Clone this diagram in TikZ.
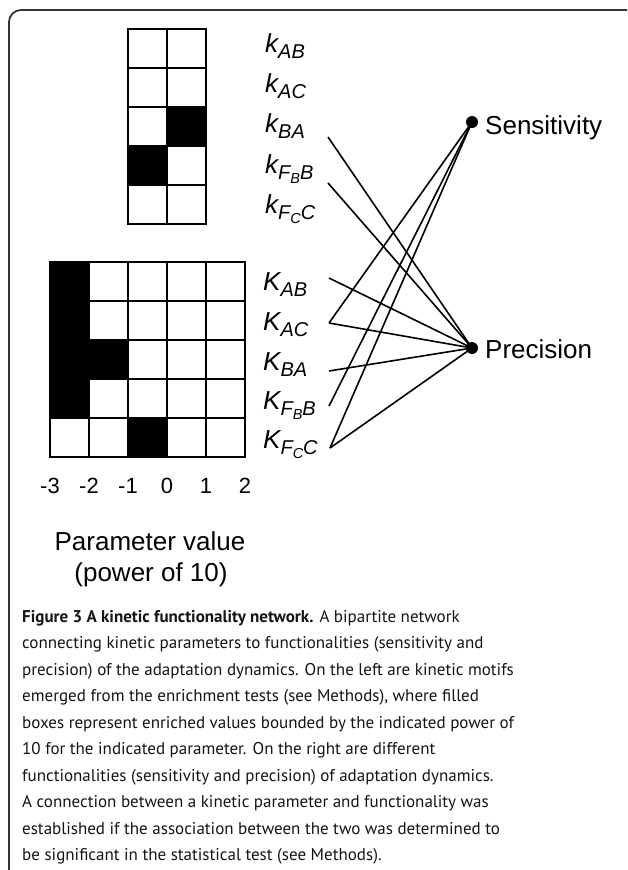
\documentclass[tikz,border=0pt]{standalone}
\usepackage{fontspec}
\setmainfont{Liberation Sans}
\newfontfamily\capfont{PT Sans}
\newcommand\labk[2]{{\fontsize{26}{26}\selectfont\itshape #1}\raisebox{-6pt}{\fontsize{20}{20}\selectfont\itshape #2}}
\newcommand\ssub[1]{\raisebox{-4pt}{\fontsize{14.5}{14.5}\selectfont #1}}
\tikzset{
  gridline/.style={line width=2pt, line cap=rect},
  cellfill/.style={fill=black},
  edge/.style={line width=1.6pt},
  dot/.style={circle, fill=black, inner sep=0pt, minimum size=12pt},
  lab/.style={anchor=base west, inner sep=0pt},
  big/.style={inner sep=0pt, font=\fontsize{26}{26}\selectfont},
  axisnum/.style={anchor=base, inner sep=0pt, font=\fontsize{22}{22}\selectfont},
  border/.style={line width=1.8pt, draw=black!80},
}
\begin{document}
\begin{tikzpicture}[x=1pt, y=-1pt]
\useasboundingbox (0,0) rectangle (627,870);
% border
\draw[border, rounded corners=12pt] (627,10) -- (9,10) -- (9,871);
% top grid
\fill[cellfill] (167,107) rectangle (206,146);
\fill[cellfill] (128,146) rectangle (167,185);
\foreach \i in {0,1,2} \draw[gridline] (128+39*\i,29) -- (128+39*\i,224);
\foreach \j in {0,...,5} \draw[gridline] (128,29+39*\j) -- (206,29+39*\j);
% bottom grid
\fill[cellfill] (50,262) rectangle (89,418);
\fill[cellfill] (89,340) rectangle (128,379);
\fill[cellfill] (128,418) rectangle (167,457);
\foreach \i in {0,...,5} \draw[gridline] (50+39*\i,262) -- (50+39*\i,457);
\foreach \j in {0,...,5} \draw[gridline] (50,262+39*\j) -- (245,262+39*\j);
% axis numbers
\node[axisnum] (n1) at (50,493) {-3};
\node[axisnum] (n2) at (89,493) {-2};
\node[axisnum] (n3) at (128,493) {-1};
\node[axisnum] (n4) at (167,493) {0};
\node[axisnum] (n5) at (206,493) {1};
\node[axisnum] (n6) at (245,493) {2};
\node[big, anchor=base] (pv1) at (150,550) {Parameter value};
\node[big, anchor=base] (pv2) at (151,581) {(power of 10)};
% top labels
\node[lab] (kAB) at (265,52) {\labk{k}{AB}};
\node[lab] (kAC) at (265,92) {\labk{k}{AC}};
\node[lab] (kBA) at (265,132) {\labk{k}{BA}};
\node[lab] (kFBB) at (265,173) {\labk{k}{F\ssub{B}B}};
\node[lab] (kFCC) at (265,213) {\labk{k}{F\ssub{C}C}};
% bottom labels
\node[lab] (KAB) at (263,290) {\labk{K}{AB}};
\node[lab] (KAC) at (263,330) {\labk{K}{AC}};
\node[lab] (KBA) at (263,370) {\labk{K}{BA}};
\node[lab] (KFBB) at (263,409) {\labk{K}{F\ssub{B}B}};
\node[lab] (KFCC) at (263,448) {\labk{K}{F\ssub{C}C}};
% connector ends
\coordinate (ekBA) at (328,137);
\coordinate (ekFBB) at (328,183);
\coordinate (eKAB) at (329,278);
\coordinate (eKAC) at (329,323);
\coordinate (eKBA) at (329,371);
\coordinate (eKFBB) at (329,406);
\coordinate (eKFCC) at (330,448);
% functionality nodes
\node[dot] (sens) at (472,122) {};
\node[dot] (prec) at (472,348) {};
\node[big, anchor=base west] (senslab) at (485,134) {Sensitivity};
\node[big, anchor=base west] (preclab) at (485,358) {Precision};
% edges
\draw[edge] (ekBA) -- (prec.center);
\draw[edge] (ekFBB) -- (prec.center);
\draw[edge] (eKAB) -- (prec.center);
\draw[edge] (eKAC) -- (prec.center);
\draw[edge] (eKBA) -- (prec.center);
\draw[edge] (eKFCC) -- (prec.center);
\draw[edge] (eKAC) -- (sens.center);
\draw[edge] (eKFBB) -- (sens.center);
\draw[edge] (eKFCC) -- (sens.center);
% caption
\node[anchor=north west, inner sep=0pt, align=left, text=black!92,
      font=\capfont\fontsize{17}{26.5}\selectfont] (caption) at (22,610)
{\textbf{Figure 3 A kinetic functionality network.} A bipartite network\\
connecting kinetic parameters to functionalities (sensitivity and\\
precision) of the adaptation dynamics. On the left are kinetic motifs\\
emerged from the enrichment tests (see Methods), where filled\\
boxes represent enriched values bounded by the indicated power of\\
10 for the indicated parameter. On the right are different\\
functionalities (sensitivity and precision) of adaptation dynamics.\\
A connection between a kinetic parameter and functionality was\\
established if the association between the two was determined to\\
be significant in the statistical test (see Methods).};
\end{tikzpicture}
\end{document}
